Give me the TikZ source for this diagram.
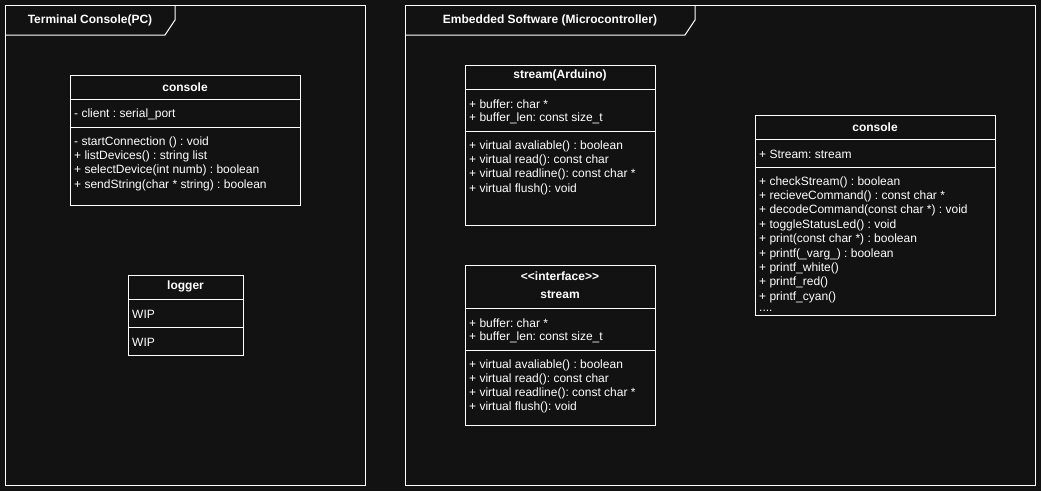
\documentclass[tikz,border=0pt]{standalone}
\usepackage{fontspec}
\setmainfont{Liberation Sans}
\frenchspacing
\definecolor{bgdark}{HTML}{121212}
\tikzset{
  frame/.style={draw=white, line width=1pt},
  classbox/.style={draw=white, line width=1pt, anchor=north west, inner sep=0pt},
  member/.style={anchor=west, inner sep=0pt, yshift=-1pt, text=white, font=\fontsize{12}{14}\selectfont},
  title/.style={inner sep=0pt, yshift=-0.8pt, text=white, font=\fontsize{12}{14}\selectfont\bfseries}
}
\begin{document}
\begin{tikzpicture}[x=1pt,y=-1pt]
\fill[bgdark] (0,0) rectangle (1041,491);
\useasboundingbox (0,0) rectangle (1041,491);

% packages
\draw[frame] (5,5) rectangle (365,485);
\draw[frame] (5,35) -- (165,35) -- (175,20) -- (175,5);
\node[title] (pcname) at (90,20) {Terminal Console(PC)};
\draw[frame] (405,5) rectangle (1035,485);
\draw[frame] (405,35) -- (685,35) -- (695,20) -- (695,5);
\node[title] (mcuname) at (550,20) {Embedded Software (Microcontroller)};

% console (PC)
\node[classbox, minimum width=230pt, minimum height=130pt] (pccon) at (70,75) {};
\draw[frame] (70,99) -- (300,99) (70,127) -- (300,127);
\node[title] (pccontitle) at (185,86) {console};
\node[member] (pcattr) at (74,113) {- client : serial\_port};
\foreach \t [count=\i] in {- startConnection () : void, + listDevices() : string list,
  + selectDevice(int numb) : boolean, + sendString(char * string) : boolean}
{
\node[member] (pcop\i) at (74,{141+14.4*(\i-1)}) {\t};
}

% logger
\node[classbox, minimum width=115pt, minimum height=80pt] (logger) at (128,275) {};
\draw[frame] (128,299) -- (243,299) (128,327) -- (243,327);
\node[title] (loggertitle) at (185.5,286) {logger};
\node[member] (logattr) at (132,313) {WIP};
\node[member] (logop) at (132,341) {WIP};

% stream(Arduino)
\node[classbox, minimum width=190pt, minimum height=160pt] (ardstream) at (465,65) {};
\draw[frame] (465,89) -- (655,89) (465,131) -- (655,131);
\node[title] (ardtitle) at (560,75) {stream(Arduino)};
\node[member] (ardattr1) at (469,103) {+ buffer: char *};
\node[member] (ardattr2) at (469,117) {+ buffer\_len: const size\_t};
\foreach \t [count=\i] in {+ virtual avaliable() : boolean, + virtual read(): const char,
  + virtual readline(): const char *, + virtual flush(): void}
{
\node[member] (ardop\i) at (469,{145+14.4*(\i-1)}) {\t};
}

% stream interface
\node[classbox, minimum width=190pt, minimum height=160pt] (ifstream) at (465,265) {};
\draw[frame] (465,308) -- (655,308) (465,350) -- (655,350);
\node[title] (ifstereo) at (560,275) {<\kern0pt<interface>\kern0pt>};
\node[title] (iftitle) at (560,294) {stream};
\node[member] (ifattr1) at (469,322) {+ buffer: char *};
\node[member] (ifattr2) at (469,336) {+ buffer\_len: const size\_t};
\foreach \t [count=\i] in {+ virtual avaliable() : boolean, + virtual read(): const char,
  + virtual readline(): const char *, + virtual flush(): void}
{
\node[member] (ifop\i) at (469,{364+14.2*(\i-1)}) {\t};
}

% console (MCU)
\node[classbox, minimum width=240pt, minimum height=200pt] (mcucon) at (755,115) {};
\draw[frame] (755,139) -- (995,139) (755,167) -- (995,167);
\node[title] (mcutitle) at (875,126) {console};
\node[member] (mcuattr) at (759,153) {+ Stream: stream};
\foreach \t [count=\i] in {+ checkStream() : boolean, + recieveCommand() : const char *,
  + decodeCommand(const char *) : void, + toggleStatusLed() : void,
  + print(const char *) : boolean, + printf(\_varg\_) : boolean,
  + printf\_white(), + printf\_red(), + printf\_cyan()}
{
\node[member] (mcuop\i) at (759,{181+14.4*(\i-1)}) {\t};
}
\node[member] (mcumore) at (759,310) {....};
\end{tikzpicture}
\end{document}
